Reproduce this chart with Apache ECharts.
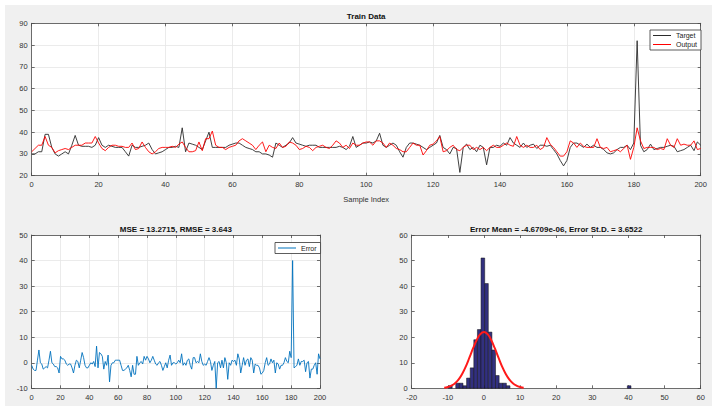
<!DOCTYPE html>
<html>
<head>
<meta charset="utf-8">
<script src="https://cdn.jsdelivr.net/npm/echarts@6/dist/echarts.min.js"></script>
<style>
html,body{margin:0;padding:0;background:#fff;}
#bg{position:absolute;left:5px;top:5px;width:707px;height:401px;background:#f0f0f0;}
#chart{position:absolute;left:0;top:0;width:712px;height:406px;}
</style>
</head>
<body>
<div id="bg"></div>
<div id="chart"></div>
<script>
// ---- data ----
const target = [30,30,31,31,39,39,33,30,29,30, 31,30,34,38.5,34,33.5,33.5,33.5,33,34, 37.5,34,33,34,33.5,33,33,33,31,29, 34,33,33,33.5,34,35,32,30,30.5,31, 32,33,33,33.5,33,42,31,35,34.5,34, 33,32,36,40,33,33,33,33,33,34, 34.5,35,35,34,33,32.5,32,31,31,30, 30,29.5,28.5,35,34,33,34,35,37.5,35, 34.5,34,33.5,34,34,34,33,33,33,33, 33,33,33.5,33,32,33.5,38,33,34,35, 35,35.5,35,36,39.5,34,33,34,35,34, 31,28.5,33,35,35,34.5,34,33,32,33, 34,35,38.5,33,32,30,33,32.5,21.5,33, 34.5,32,33,31,34,33,25,33,33,34, 33.5,35,34,37.5,35,34,33,35,33,34, 34.5,32.5,34,34,33.5,34,32,30,27,24.5, 27,33,35,35,34,33,34.5,33,34,33, 33,32,30.5,30,30.5,32,33,33,34,32, 35,82,34,31,32,34.5,32,32.5,33,33, 33.5,34,33.5,31,31.5,32,33,34,31.5,35.5, 34];
const output = [31,32.5,34,34,38,34,33,30.5,31.5,32, 32.5,32,33,34,34,34,35,35,35,38, 35,32.5,31.5,33,34,34,33.5,33.5,33,33, 35,32,32.5,35.5,33,31,30,31,32.5,33, 33,33,33.5,33,34.5,35.5,33,31,31,31.5, 35.5,31.5,37,37,40.5,34,33,33,32,33, 33.5,34,36,37,36,35,34,32,34,35.5, 31,34,33,32.5,35,33,33.5,35.5,35,34, 32,32.5,33.5,33,31.5,33,33.5,34,33,32.5, 34,36,35,33,34,32.5,35,34,34,35, 35.5,35.5,34,36,36,35,33,35,34,32.5, 32,31,31,33,35,34,34,29.5,31.5,34, 34.5,36,38,31,31.5,33,34,32,31.5,33, 34,34,32,33,32,33,31.5,33,34,33, 33,34,35,34,33.5,38,34,33,34,33, 33,34,32,33,37.5,34.5,33,31,29,29, 31,36,35,33,35,33.5,33,33,33,37, 33,32.5,33,31,31.5,32,31,32.5,34,27.5, 33,42,36,32.5,33,33,33,32,32.5,32, 37,34,33,37,34,34.5,34,34,36,32, 32.5];
const errors = [-1,-2.5,-3,-3,1,5,0,-0.5,-2.5,-2, -1.5,-2,1,4.5,0,-0.5,-1.5,-1.5,-2,-4, 2.5,1.5,1.5,1,-0.5,-1,-0.5,-0.5,-2,-4, -1,1,0.5,-2,1,4,2,-1,-2,-2, -1,0,-0.5,0.5,-1.5,6.5,-2,4,3.5,2.5, -2.5,0.5,-1,3,-7.5,-1,0,0,1,1, 1,1,-1,-3,-3,-2.5,-2,-1,-3,-5.5, -1,-4.5,-4.5,2.5,-1,0,0.5,-0.5,2.5,1, 2.5,1.5,0,1,2.5,1,-0.5,-1,0,0.5, -1,-3,-1.5,0,-2,1,3,-1,0,0, -0.5,0,1,0,3.5,-1,0,-1,1,1.5, -1,-2.5,2,2,0,0.5,0,3.5,0.5,-1, -0.5,-1,0.5,2,0.5,-3,-1,0.5,-10,0, 0.5,-2,1,-2,2,0,-6.5,0,-1,1, 0.5,1,-1,3.5,1.5,-4,-1,2,-1,1, 1.5,-1.5,2,1,-4,-0.5,-1,-1,-2,-4.5, -4,-3,0,2,-1,-0.5,1.5,0,1,-4, 0,-0.5,-2.5,-1,-1,0,2,0.5,0,4.5, 2,40,-2,-1.5,-1,1.5,-1,0.5,0.5,1, -3.5,0,0.5,-6,-2.5,-2.5,-1,0,-4.5,3.5, 1.5];
const binCenters = [-9.3,-7.3,-6.3,-5.3,-4.3,-3.3,-2.3,-1.3,-0.3,0.7,1.7,2.7,3.7,4.7,5.7,6.7,40.2];
const binCounts  = [1,2,2,1,4,8,19,23,51,41,22,15,5,2,2,1,1];
const binWidth = 1.01;
const fitX = [-11,-10,-9,-8,-7,-6,-5,-4,-3,-2,-1,0,1,2,3,4,5,6,7,8,9,10,11];
const fitY = [0.24,0.52,1.06,2.0,3.5,5.7,8.6,12.1,15.7,18.9,21.2,22,21.2,18.9,15.7,12.1,8.6,5.7,3.5,2.0,1.06,0.52,0.24];
const titles = ['Train Data','MSE = 13.2715, RMSE = 3.643','Error Mean = -4.6709e-06, Error St.D. = 3.6522'];
const xName = 'Sample Index';

// ---- styling helpers ----
const FONT = 'Liberation Sans, Arial, sans-serif';
const AX = '#4a4a4a';
const grids = [
  {left:31.7, top:23.3, width:669, height:152.4},
  {left:31.7, top:235, width:288.3, height:153.3},
  {left:411.7, top:235, width:289, height:153.3}
];
function mainX(gi, min, max, itv, grid, extra){
  return Object.assign({
    type:'value', gridIndex:gi, min:min, max:max, interval:itv, position:'bottom',
    axisLine:{show:true, onZero:false, lineStyle:{color:AX, width:0.8}},
    axisTick:{show:true, inside:true, length:3, lineStyle:{color:AX, width:0.8}},
    axisLabel:{color:'#333', fontSize:7.5, fontFamily:FONT, margin:5},
    splitLine:{show:grid, lineStyle:{color:'#e6e6e6', width:0.8}}
  }, extra||{});
}
function mirrorX(gi, min, max, itv){
  return {type:'value', gridIndex:gi, min:min, max:max, interval:itv, position:'top',
    axisLine:{show:true, onZero:false, lineStyle:{color:AX, width:0.8}},
    axisTick:{show:true, inside:true, length:3, lineStyle:{color:AX, width:0.8}},
    axisLabel:{show:false}, splitLine:{show:false}};
}
function mainY(gi, min, max, itv, grid){
  return {type:'value', gridIndex:gi, min:min, max:max, interval:itv, position:'left',
    axisLine:{show:true, onZero:false, lineStyle:{color:AX, width:0.8}},
    axisTick:{show:true, inside:true, length:3, lineStyle:{color:AX, width:0.8}},
    axisLabel:{color:'#333', fontSize:7.5, fontFamily:FONT, margin:4},
    splitLine:{show:grid, lineStyle:{color:'#e6e6e6', width:0.8}}};
}
function mirrorY(gi, min, max, itv){
  return {type:'value', gridIndex:gi, min:min, max:max, interval:itv, position:'right',
    axisLine:{show:true, onZero:false, lineStyle:{color:AX, width:0.8}},
    axisTick:{show:true, inside:true, length:3, lineStyle:{color:AX, width:0.8}},
    axisLabel:{show:false}, splitLine:{show:false}};
}
const titleCenters = [
  [grids[0].left + grids[0].width/2, 16.7],
  [grids[1].left + grids[1].width/2, 229.7],
  [grids[2].left + grids[2].width/2, 229.7]
];
const legendBox = {backgroundColor:'#fff', borderColor:'#333', borderWidth:0.8, borderRadius:0,
  orient:'vertical', itemGap:2, itemWidth:18, itemHeight:1, icon:'rect', padding:[2,4,2,3],
  textStyle:{fontSize:7, fontFamily:FONT, color:'#222', padding:[0,0,0,0]}};

const chart = echarts.init(document.getElementById('chart'), null, {renderer:'svg'});
chart.setOption({
  animation:false,
  backgroundColor:'transparent',
  textStyle:{fontFamily:FONT},
  grid: grids.map(g => Object.assign({show:true, backgroundColor:'#fff', borderWidth:0, containLabel:false}, g)),
  xAxis:[
    mainX(0,0,200,20,true,{name:xName, nameLocation:'middle', nameGap:19.5,
      nameTextStyle:{fontSize:7.5, color:'#333', fontFamily:FONT}}),
    mirrorX(0,0,200,20),
    mainX(1,0,200,20,true),
    mirrorX(1,0,200,20),
    mainX(2,-20,60,10,false),
    mirrorX(2,-20,60,10)
  ],
  yAxis:[
    mainY(0,20,90,10,true), mirrorY(0,20,90,10),
    mainY(1,-10,50,10,true), mirrorY(1,-10,50,10),
    mainY(2,0,60,10,false), mirrorY(2,0,60,10)
  ],
  legend:[
    Object.assign({}, legendBox, {left:650, top:30, data:['Target','Output']}),
    Object.assign({}, legendBox, {left:275, top:242.5, data:['Error']})
  ],
  graphic: titles.map((t,i) => ({
    type:'text', x:titleCenters[i][0], y:titleCenters[i][1], z:100,
    style:{text:t, align:'center', verticalAlign:'middle', fill:'#111',
      font:'bold 8px ' + FONT}
  })),
  series:[
    {name:'Target', type:'line', xAxisIndex:0, yAxisIndex:0, symbol:'none',
      data: target.map((v,i)=>[i,v]), lineStyle:{color:'#2b2b2b', width:0.9}, itemStyle:{color:'#2b2b2b'}},
    {name:'Output', type:'line', xAxisIndex:0, yAxisIndex:0, symbol:'none',
      data: output.map((v,i)=>[i,v]), lineStyle:{color:'#ff0000', width:0.9}, itemStyle:{color:'#ff0000'}},
    {name:'Error', type:'line', xAxisIndex:2, yAxisIndex:2, symbol:'none',
      data: errors.map((v,i)=>[i,v]), lineStyle:{color:'#0072BD', width:0.9}, itemStyle:{color:'#0072BD'}},
    {name:'Histogram', type:'custom', xAxisIndex:4, yAxisIndex:4,
      data: binCenters.map((c,i)=>[c, binCounts[i]]),
      renderItem: function(params, api){
        const c = api.value(0), n = api.value(1);
        const p0 = api.coord([c - binWidth/2, n]);
        const p1 = api.coord([c + binWidth/2, 0]);
        return {type:'rect', shape:{x:p0[0], y:p0[1], width:p1[0]-p0[0], height:p1[1]-p0[1]},
          style:{fill:'#32307f', stroke:'#111', lineWidth:0.5}};
      }},
    {name:'Fit', type:'line', xAxisIndex:4, yAxisIndex:4, symbol:'none', smooth:true,
      data: fitX.map((x,i)=>[x, fitY[i]]), lineStyle:{color:'#ff1a1a', width:2}, z:5}
  ]
});
</script>
</body>
</html>
